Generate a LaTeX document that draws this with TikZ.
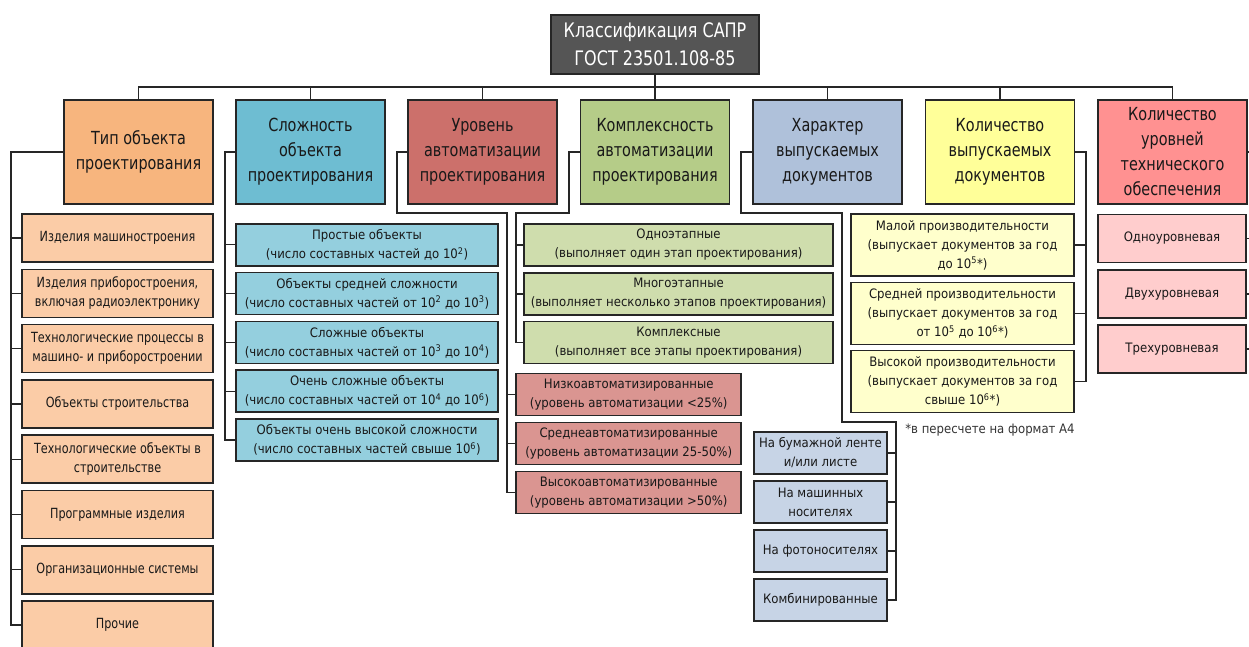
\documentclass[tikz,border=0pt]{standalone}
\usepackage{fontspec}
\setmainfont{DejaVu Sans}[FakeStretch=0.9]
\newfontfamily\narrowfont{DejaVu Sans}[FakeStretch=0.8]

\definecolor{saprgray}{HTML}{555555}
\definecolor{tipc}{HTML}{F7B57E}
\definecolor{tipl}{HTML}{FBCCA7}
\definecolor{slozhc}{HTML}{6EBDD2}
\definecolor{slozhl}{HTML}{94CFDE}
\definecolor{urovc}{HTML}{CC706B}
\definecolor{urovl}{HTML}{DA9591}
\definecolor{komplc}{HTML}{B5CC88}
\definecolor{kompll}{HTML}{CFDDAD}
\definecolor{harc}{HTML}{AFC1DA}
\definecolor{harl}{HTML}{C7D4E6}
\definecolor{kolvc}{HTML}{FFFF99}
\definecolor{kolvl}{HTML}{FFFFCC}
\definecolor{koluc}{HTML}{FF9191}
\definecolor{kolul}{HTML}{FFCDCD}

\tikzset{every path/.style={line width=1.3pt}}
\tikzset{
  box/.style={draw=black!85, line width=1.5pt, rectangle, align=center, inner sep=0pt, text=black!90},
  saprbox/.style={box, fill=saprgray, text=white, minimum width=208pt, minimum height=59pt, font=\narrowfont\fontsize{20}{28}\selectfont},
  head/.style={box, minimum width=149pt, minimum height=104pt, font=\narrowfont\fontsize{18}{25}\selectfont},
  item/.style={box, font=\fontsize{13}{19}\selectfont},
  tipbox/.style={item, fill=tipl, minimum width=191pt, minimum height=48pt, font=\narrowfont\fontsize{14}{19}\selectfont},
  slozhbox/.style={item, fill=slozhl, minimum width=262pt, minimum height=42pt},
  urovbox/.style={item, fill=urovl, minimum width=225pt, minimum height=42pt},
  komplbox/.style={item, fill=kompll, minimum width=309pt, minimum height=42pt},
  harbox/.style={item, fill=harl, minimum width=133pt, minimum height=42pt},
  kolvbox/.style={item, fill=kolvl, minimum width=223pt, minimum height=62pt},
  kolubox/.style={item, fill=kolul, minimum width=148pt, minimum height=48pt},
  link/.style={draw=black!85}
}

\begin{document}
\begin{tikzpicture}[x=1pt,y=-1pt]
\useasboundingbox (0,0) rectangle (1249,646);

\node[saprbox] (sapr) at (655,44.5) {Классификация САПР\\ГОСТ 23501.108-85};

% категории
\node[head, fill=tipc] (tip) at (138.5,152) {Тип объекта\\проектирования};
\node[head, fill=slozhc] (slozh) at (310.5,152) {Сложность\\объекта\\проектирования};
\node[head, fill=urovc] (urov) at (482.5,152) {Уровень\\автоматизации\\проектирования};
\node[head, fill=komplc] (kompl) at (655,152) {Комплексность\\автоматизации\\проектирования};
\node[head, fill=harc] (har) at (827.5,152) {Характер\\выпускаемых\\документов};
\node[head, fill=kolvc] (kolv) at (1000,152) {Количество\\выпускаемых\\документов};
\node[head, fill=koluc] (kolu) at (1172.5,152) {Количество\\уровней\\технического\\обеспечения};

% тип объекта
\node[tipbox] (tip1) at (117.5,238) {Изделия машиностроения};
\node[tipbox] (tip2) at (117.5,293.3) {Изделия приборостроения,\\включая радиоэлектронику};
\node[tipbox] (tip3) at (117.5,348.6) {Технологические процессы в\\машино- и приборостроении};
\node[tipbox] (tip4) at (117.5,404) {Объекты строительства};
\node[tipbox] (tip5) at (117.5,459.2) {Технологические объекты в\\строительстве};
\node[tipbox] (tip6) at (117.5,514.5) {Программные изделия};
\node[tipbox] (tip7) at (117.5,569.8) {Организационные системы};
\node[tipbox] (tip8) at (117.5,625.1) {Прочие};

% сложность
\node[slozhbox] (slozh1) at (367,244.8) {Простые объекты\\(число составных частей до 10\textsuperscript{2})};
\node[slozhbox] (slozh2) at (367,293.6) {Объекты средней сложности\\(число составных частей от 10\textsuperscript{2} до 10\textsuperscript{3})};
\node[slozhbox] (slozh3) at (367,342.4) {Сложные объекты\\(число составных частей от 10\textsuperscript{3} до 10\textsuperscript{4})};
\node[slozhbox] (slozh4) at (367,391.2) {Очень сложные объекты\\(число составных частей от 10\textsuperscript{4} до 10\textsuperscript{6})};
\node[slozhbox] (slozh5) at (367,440) {Объекты очень высокой сложности\\(число составных частей свыше 10\textsuperscript{6})};

% уровень автоматизации
\node[urovbox] (urov1) at (628.7,394.5) {Низкоавтоматизированные\\(уровень автоматизации <25\%)};
\node[urovbox] (urov2) at (628.7,443.3) {Среднеавтоматизированные\\(уровень автоматизации 25-50\%)};
\node[urovbox] (urov3) at (628.7,492.3) {Высокоавтоматизированные\\(уровень автоматизации >50\%)};

% комплексность
\node[komplbox] (kompl1) at (678.5,245) {Одноэтапные\\(выполняет один этап проектирования)};
\node[komplbox] (kompl2) at (678.5,294) {Многоэтапные\\(выполняет несколько этапов проектирования)};
\node[komplbox] (kompl3) at (678.5,342.5) {Комплексные\\(выполняет все этапы проектирования)};

% характер документов
\node[harbox] (har1) at (820.5,453) {На бумажной ленте\\и/или листе};
\node[harbox] (har2) at (820.5,502) {На машинных\\носителях};
\node[harbox] (har3) at (820.5,551) {На фотоносителях};
\node[harbox] (har4) at (820.5,600) {Комбинированные};

% количество документов
\node[kolvbox] (kolv1) at (962.5,245) {Малой производительности\\(выпускает документов за год\\до 10\textsuperscript{5}*)};
\node[kolvbox] (kolv2) at (962.5,313.4) {Средней производительности\\(выпускает документов за год\\от 10\textsuperscript{5} до 10\textsuperscript{6}*)};
\node[kolvbox] (kolv3) at (962.5,381.5) {Высокой производительности\\(выпускает документов за год\\свыше 10\textsuperscript{6}*)};
\node[font=\fontsize{13}{19}\selectfont, text=black!80] (snoska) at (990,430) {*в пересчете на формат А4};

% уровни обеспечения
\node[kolubox] (kolu1) at (1172,238.3) {Одноуровневая};
\node[kolubox] (kolu2) at (1172,294) {Двухуровневая};
\node[kolubox] (kolu3) at (1172,349) {Трехуровневая};

% шина
\coordinate (bus) at (655,87);
\draw[link] (sapr.south) -- (bus);
\draw[link] (tip.north) |- (bus) -| (kolu.north);
\draw[link] (slozh.north) -- (slozh.north |- bus);
\draw[link] (urov.north) -- (urov.north |- bus);
\draw[link] (kompl.north) -- (kompl.north |- bus);
\draw[link] (har.north) -- (har.north |- bus);
\draw[link] (kolv.north) -- (kolv.north |- bus);

% скобки
\coordinate (tipx) at (11,0);
\draw[link] (tip.west) -| (tipx |- tip8.west) -- (tip8.west);
\draw[link] (tipx |- tip1.west) -- (tip1.west);
\draw[link] (tipx |- tip2.west) -- (tip2.west);
\draw[link] (tipx |- tip3.west) -- (tip3.west);
\draw[link] (tipx |- tip4.west) -- (tip4.west);
\draw[link] (tipx |- tip5.west) -- (tip5.west);
\draw[link] (tipx |- tip6.west) -- (tip6.west);
\draw[link] (tipx |- tip7.west) -- (tip7.west);

\coordinate (slozhx) at (225,0);
\draw[link] (slozh.west) -| (slozhx |- slozh5.west) -- (slozh5.west);
\draw[link] (slozhx |- slozh1.west) -- (slozh1.west);
\draw[link] (slozhx |- slozh2.west) -- (slozh2.west);
\draw[link] (slozhx |- slozh3.west) -- (slozh3.west);
\draw[link] (slozhx |- slozh4.west) -- (slozh4.west);

\coordinate (urovk) at (397,213);
\coordinate (urovx) at (507,213);
\draw[link] (urov.west) -| (urovk) -- (urovx) |- (urov3.west);
\draw[link] (urovx |- urov1.west) -- (urov1.west);
\draw[link] (urovx |- urov2.west) -- (urov2.west);

\coordinate (komplk) at (569,213);
\coordinate (komplx) at (516,213);
\draw[link] (kompl.west) -| (komplk) -- (komplx) |- (kompl3.west);
\draw[link] (komplx |- kompl1.west) -- (kompl1.west);
\draw[link] (komplx |- kompl2.west) -- (kompl2.west);

\coordinate (hark) at (741,213);
\coordinate (harm) at (842,213);
\coordinate (harx) at (896,422);
\draw[link] (har.west) -| (hark) -- (harm) |- (harx) |- (har4.east);
\draw[link] (harx |- har1.east) -- (har1.east);
\draw[link] (harx |- har2.east) -- (har2.east);
\draw[link] (harx |- har3.east) -- (har3.east);

\coordinate (kolvx) at (1086,0);
\draw[link] (kolv.east) -| (kolvx |- kolv3.east) -- (kolv3.east);
\draw[link] (kolvx |- kolv1.east) -- (kolv1.east);
\draw[link] (kolvx |- kolv2.east) -- (kolv2.east);

\coordinate (kolux) at (1249,0);
\draw[link] (kolu.east) -- (kolux |- kolu.east);
\draw[link] (kolu1.east) -- (kolux |- kolu1.east);
\draw[link] (kolu2.east) -- (kolux |- kolu2.east);
\draw[link] (kolu3.east) -- (kolux |- kolu3.east);
\end{tikzpicture}
\end{document}
